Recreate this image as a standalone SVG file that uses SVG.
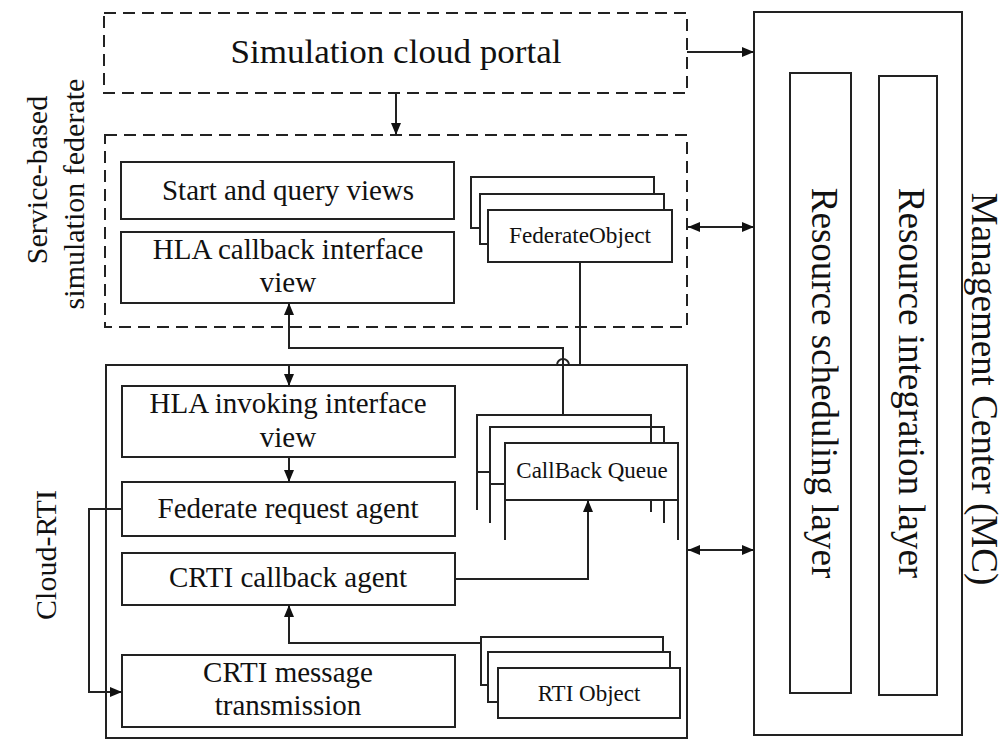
<svg xmlns="http://www.w3.org/2000/svg" width="1007" height="741" viewBox="0 0 1007 741">
  <style>
    text { font-family: "Liberation Serif", "Times New Roman", serif; fill: #111; }
    .box { fill: #fff; stroke: #222; stroke-width: 2; }
    .dash { fill: none; stroke: #222; stroke-width: 2; stroke-dasharray: 12 7; }
    .frame { fill: none; stroke: #222; stroke-width: 2; }
    .ln { fill: none; stroke: #222; stroke-width: 2; }
    .t28 { font-size: 29px; text-anchor: middle; }
    .big { font-size: 33px; text-anchor: middle; }
    .vert { font-size: 37px; text-anchor: middle; }
    .side { font-size: 30px; text-anchor: middle; }
    .obj { font-size: 23px; text-anchor: middle; }
  </style>
  <defs>
    <marker id="arr" viewBox="0 0 12 10" refX="12" refY="5" markerWidth="12" markerHeight="10" markerUnits="userSpaceOnUse" orient="auto-start-reverse">
      <path d="M0,0 L12,5 L0,10 z" fill="#111"/>
    </marker>
  </defs>

  <rect width="1007" height="741" fill="#fff"/>

  <!-- Management Center -->
  <g id="management-center">
    <rect class="frame" x="754" y="12" width="208" height="723"/>
    <text class="vert" font-size="36" transform="translate(972,389) rotate(90)">Management Center (MC)</text>
  </g>
  <g id="resource-scheduling-layer">
    <rect class="frame" x="790" y="73" width="61" height="620"/>
    <text class="vert" transform="translate(812,383) rotate(90)">Resource scheduling layer</text>
  </g>
  <g id="resource-integration-layer">
    <rect class="frame" x="879" y="76" width="58" height="619"/>
    <text class="vert" transform="translate(899,383) rotate(90)">Resource integration layer</text>
  </g>

  <!-- Simulation cloud portal -->
  <g id="portal">
    <rect class="dash" x="104" y="13" width="583" height="80"/>
    <text class="big" x="396" y="63" textLength="331" lengthAdjust="spacingAndGlyphs">Simulation cloud portal</text>
  </g>

  <!-- Service-based simulation federate -->
  <g id="federate">
    <rect class="dash" x="105" y="135" width="582" height="192"/>
    <text class="side" transform="translate(47,180) rotate(-90)">Service-based</text>
    <text class="side" transform="translate(84,194) rotate(-90)">simulation federate</text>
  </g>
  <g id="start-query-views">
    <rect class="box" x="121" y="162" width="333" height="57"/>
    <text class="t28" x="288" y="200">Start and query views</text>
  </g>
  <g id="hla-callback-view">
    <rect class="box" x="121" y="232" width="333" height="71"/>
    <text class="t28" x="288" y="259">HLA callback interface</text>
    <text class="t28" x="288" y="292">view</text>
  </g>
  <g id="federate-object">
    <rect class="box" x="471" y="177" width="183" height="51"/>
    <rect class="box" x="480" y="194" width="184" height="50"/>
    <rect class="box" x="488" y="210" width="184" height="52"/>
    <text class="obj" x="580" y="243" font-size="20" textLength="142" lengthAdjust="spacingAndGlyphs">FederateObject</text>
  </g>

  <!-- Cloud-RTI -->
  <g id="cloud-rti">
    <rect class="frame" x="106" y="365" width="581" height="373"/>
    <text class="side" font-size="29" transform="translate(56,555) rotate(-90)">Cloud-RTI</text>
  </g>
  <g id="hla-invoking-view">
    <rect class="box" x="122" y="386" width="333" height="71"/>
    <text class="t28" x="288" y="413">HLA invoking interface</text>
    <text class="t28" x="288" y="447">view</text>
  </g>
  <g id="federate-request-agent">
    <rect class="box" x="122" y="482" width="333" height="54"/>
    <text class="t28" x="288" y="518">Federate request agent</text>
  </g>
  <g id="crti-callback-agent">
    <rect class="box" x="122" y="553" width="333" height="52"/>
    <text class="t28" x="288" y="587">CRTI callback agent</text>
  </g>
  <g id="crti-message-transmission">
    <rect class="box" x="122" y="655" width="333" height="72"/>
    <text class="t28" x="288" y="682">CRTI message</text>
    <text class="t28" x="288" y="715">transmission</text>
  </g>
  <g id="callback-queue">
    <path class="ln" d="M477,510 V415 H651 V443 M651,500 V512 M477,472 H490"/>
    <path class="ln" d="M490,523 V427 H664 V443 M664,500 V523 M490,484 H505"/>
    <path class="ln" d="M505,540 V443 H678 V540 M505,500 H678"/>
    <text class="obj" x="592" y="478">CallBack Queue</text>
  </g>
  <g id="rti-object">
    <rect class="box" x="481" y="637" width="182" height="48"/>
    <rect class="box" x="488" y="652" width="182" height="50"/>
    <rect class="box" x="498" y="668" width="182" height="50"/>
    <text class="obj" x="589" y="701">RTI Object</text>
  </g>

  <!-- connectors -->
  <g id="connectors">
    <line class="ln" x1="687" y1="52" x2="754" y2="52" marker-end="url(#arr)"/>
    <line class="ln" x1="396" y1="93" x2="396" y2="135" marker-end="url(#arr)"/>
    <line class="ln" x1="688" y1="227" x2="754" y2="227" marker-start="url(#arr)" marker-end="url(#arr)"/>
    <line class="ln" x1="688" y1="550" x2="754" y2="550" marker-start="url(#arr)" marker-end="url(#arr)"/>
    <path class="ln" d="M580,262 V365 H569 A6,6 0 0 0 557,365 H289 V386" marker-end="url(#arr)"/>
    <path class="ln" d="M563,415 V348 H289 V303" marker-end="url(#arr)"/>
    <line class="ln" x1="289" y1="457" x2="289" y2="482" marker-end="url(#arr)"/>
    <path class="ln" d="M122,509 H89 V692 H122" marker-end="url(#arr)"/>
    <path class="ln" d="M455,579 H588 V500" marker-end="url(#arr)"/>
    <path class="ln" d="M481,643 H289 V605" marker-end="url(#arr)"/>
  </g>
</svg>
